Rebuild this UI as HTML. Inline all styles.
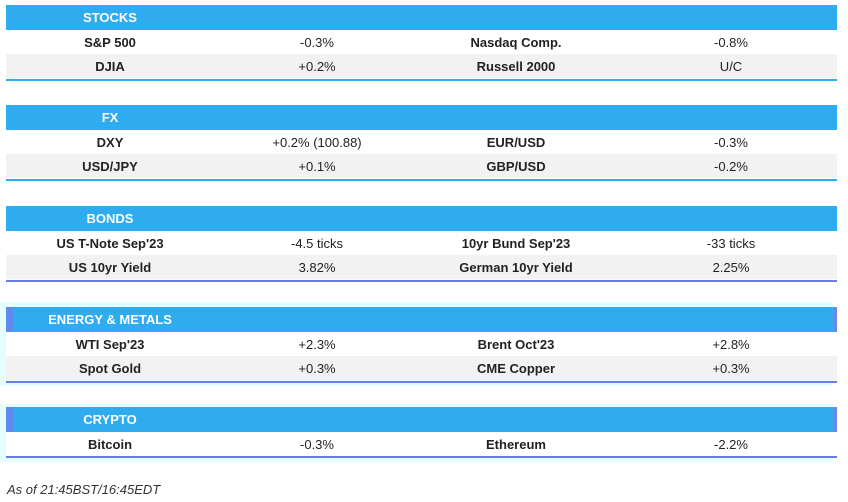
<!DOCTYPE html>
<html><head><meta charset="utf-8"><style>
body{margin:0;width:848px;height:502px;background:#fff;font-family:"Liberation Sans",sans-serif;position:relative;overflow:hidden}
.sec{position:absolute;left:6px;width:831px}
.glow{position:absolute;left:0;width:833px;background:#e6fdff}
.hdr{position:absolute;left:0;width:831px;height:25px;background:#2fabf0;color:#fff;font-weight:bold;font-size:13px}
.hdr span{position:absolute;left:104px;transform:translateX(-50%);top:5px;white-space:nowrap}
.hdr.p{border-left:7px solid #5f8bee;border-right:3px solid #6f86e8;box-sizing:border-box}
.row{position:absolute;left:0;width:831px;height:24px;font-size:13px;color:#222}
.row.alt{background:#f2f2f2}
.row span{position:absolute;top:5px;transform:translateX(-50%);white-space:nowrap}
.c1{left:104px;font-weight:bold}.c2{left:311px}.c3{left:510px;font-weight:bold}.c4{left:725px}
.line{position:absolute;left:0;width:831px;height:2px;background:#2fabf0}
.line.p{background:#6a7de6}
.foot{position:absolute;left:7px;top:482px;font-size:13px;font-style:italic;color:#333}
</style></head><body>
<div class="glow" style="top:302px;height:84px"></div>
<div class="glow" style="top:404px;height:58px"></div>

<div class="sec" style="top:5px">
<div class="hdr"><span>STOCKS</span></div>
<div class="row" style="top:25px"><span class="c1">S&amp;P 500</span><span class="c2">-0.3%</span><span class="c3">Nasdaq Comp.</span><span class="c4">-0.8%</span></div>
<div class="row alt" style="top:49px"><span class="c1">DJIA</span><span class="c2">+0.2%</span><span class="c3">Russell 2000</span><span class="c4">U/C</span></div>
<div class="line" style="top:74px"></div>
</div>

<div class="sec" style="top:105px">
<div class="hdr"><span>FX</span></div>
<div class="row" style="top:25px"><span class="c1">DXY</span><span class="c2">+0.2% (100.88)</span><span class="c3">EUR/USD</span><span class="c4">-0.3%</span></div>
<div class="row alt" style="top:49px"><span class="c1">USD/JPY</span><span class="c2">+0.1%</span><span class="c3">GBP/USD</span><span class="c4">-0.2%</span></div>
<div class="line" style="top:74px"></div>
</div>

<div class="sec" style="top:206px">
<div class="hdr"><span>BONDS</span></div>
<div class="row" style="top:25px"><span class="c1">US T-Note Sep'23</span><span class="c2">-4.5 ticks</span><span class="c3">10yr Bund Sep'23</span><span class="c4">-33 ticks</span></div>
<div class="row alt" style="top:49px"><span class="c1">US 10yr Yield</span><span class="c2">3.82%</span><span class="c3">German 10yr Yield</span><span class="c4">2.25%</span></div>
<div class="line p" style="top:74px"></div>
</div>

<div class="sec" style="top:307px">
<div class="hdr p"><span style="left:97px">ENERGY &amp; METALS</span></div>
<div class="row" style="top:25px;background:#fff"><span class="c1">WTI Sep'23</span><span class="c2">+2.3%</span><span class="c3">Brent Oct'23</span><span class="c4">+2.8%</span></div>
<div class="row alt" style="top:49px"><span class="c1">Spot Gold</span><span class="c2">+0.3%</span><span class="c3">CME Copper</span><span class="c4">+0.3%</span></div>
<div class="line p" style="top:74px"></div>
</div>

<div class="sec" style="top:407px">
<div class="hdr p"><span style="left:97px">CRYPTO</span></div>
<div class="row" style="top:25px;background:#fff"><span class="c1">Bitcoin</span><span class="c2">-0.3%</span><span class="c3">Ethereum</span><span class="c4">-2.2%</span></div>
<div class="line p" style="top:49px"></div>
</div>

<div class="foot">As of 21:45BST/16:45EDT</div>
</body></html>
